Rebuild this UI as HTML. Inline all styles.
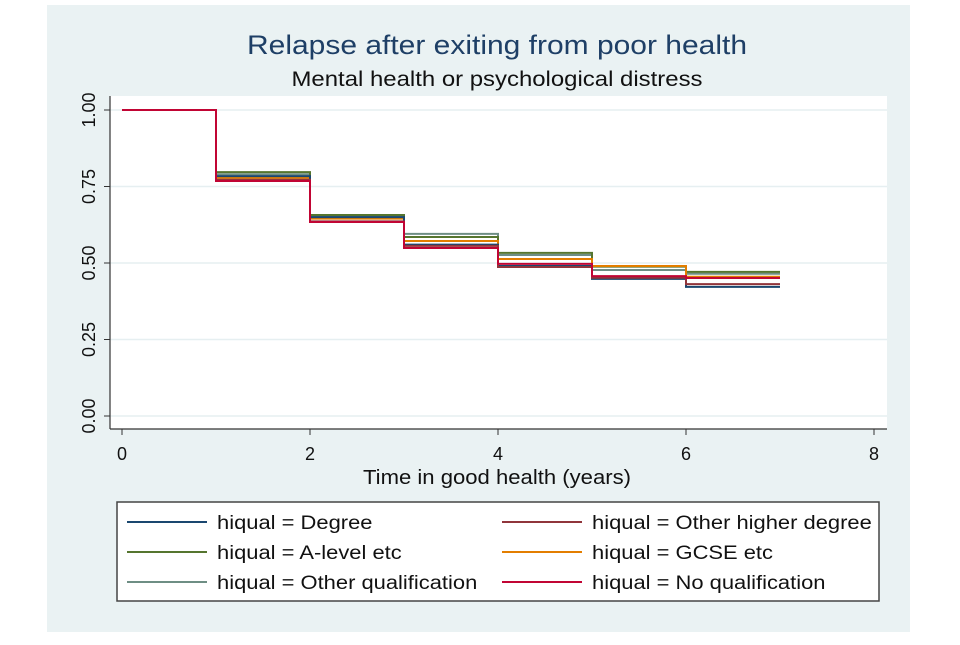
<!DOCTYPE html>
<html><head><meta charset="utf-8"><style>
body{margin:0;background:#fff;width:960px;height:640px;overflow:hidden;font-family:"Liberation Sans",sans-serif;}
</style></head><body>
<svg width="960" height="640" xmlns="http://www.w3.org/2000/svg">
<rect x="47" y="5" width="863" height="627" fill="#eaf2f3"/>
<rect x="110" y="96" width="777" height="333" fill="#fff"/>
<text x="497" y="54" text-anchor="middle" font-size="27" fill="#1e3f66" textLength="500" lengthAdjust="spacingAndGlyphs">Relapse after exiting from poor health</text>
<text x="497" y="86" text-anchor="middle" font-size="21" fill="#111" textLength="411" lengthAdjust="spacingAndGlyphs">Mental health or psychological distress</text>
<g id="grid"></g><g id="axes"></g><g id="series"></g>
<text x="497" y="484" text-anchor="middle" font-size="20" fill="#111" textLength="268" lengthAdjust="spacingAndGlyphs">Time in good health (years)</text>
<rect x="117" y="502" width="762" height="99" fill="#fff" stroke="#444" stroke-width="1.5"/>
<g id="legend"></g>
</svg>
<script>
const times=[0,1,2,3,4,5,6,7];
const seriesNames=["hiqual = Degree","hiqual = Other higher degree","hiqual = A-level etc","hiqual = GCSE etc","hiqual = Other qualification","hiqual = No qualification"];
const degree=[1,0.784,0.650,0.560,0.490,0.448,0.422];
const otherHigher=[1,0.772,0.636,0.556,0.487,0.452,0.431];
const aLevel=[1,0.797,0.657,0.585,0.533,0.488,0.471];
const gcse=[1,0.778,0.645,0.572,0.513,0.490,0.455];
const otherQual=[1,0.790,0.655,0.595,0.526,0.477,0.465];
const noQual=[1,0.768,0.634,0.549,0.497,0.457,0.451];
const yTicks=[0,0.25,0.5,0.75,1];
const xTicks=[0,2,4,6,8];
const colors=["#1a476f","#90353b","#55752f","#e37e00","#6e8e84","#c10534"];
const NS="http://www.w3.org/2000/svg";
const xs=t=>122+t*94;
const ys=v=>416-v*306;
function mk(tag,attrs,parent){const e=document.createElementNS(NS,tag);for(const k in attrs)e.setAttribute(k,attrs[k]);document.getElementById(parent).appendChild(e);return e;}
yTicks.forEach(v=>{
 const g=mk("line",{x1:110,x2:887,y1:ys(v),y2:ys(v),stroke:"#e6eff1","stroke-width":1.5},"grid");
 
 
 mk("line",{x1:104,x2:110,y1:ys(v),y2:ys(v),stroke:"#333"},"axes");
 const t=mk("text",{x:0,y:0,transform:`translate(95,${ys(v)}) rotate(-90)`,"text-anchor":"middle","font-size":18,fill:"#111"},"axes");
 t.textContent=v.toFixed(2);
 
 
});
xTicks.forEach(v=>{
 mk("line",{x1:xs(v),x2:xs(v),y1:429,y2:435,stroke:"#333"},"axes");
 const t=mk("text",{x:xs(v),y:460,"text-anchor":"middle","font-size":18,fill:"#111"},"axes");
 t.textContent=v;
 
 
});
const a1=mk("line",{x1:110,x2:110,y1:96,y2:429,stroke:"#333","stroke-width":1.2},"axes");


const a2=mk("line",{x1:110,x2:887,y1:429,y2:429,stroke:"#333","stroke-width":1.2},"axes");


const all=[degree,otherHigher,aLevel,gcse,otherQual,noQual];
const order=[4,2,3,0,1,5];
order.forEach(i=>{
 const vals=all[i];let d=`M${xs(times[0])},${ys(vals[0])}`;
 for(let k=1;k<vals.length;k++){d+=` H${xs(times[k])} V${ys(vals[k])}`;}
 d+=` H${xs(times[vals.length])}`;
 const p=mk("path",{d:d,fill:"none",stroke:colors[i],"stroke-width":2},"series");
 
 
});
seriesNames.forEach((n,i)=>{
 const col=i%2,row=Math.floor(i/2);
 const x0=col?502:127,y=522+row*30;
 const l=mk("line",{x1:x0,x2:x0+80,y1:y,y2:y,stroke:colors[i],"stroke-width":2},"legend");
 
 
 const t=mk("text",{x:x0+90,y:y+7,"font-size":19,fill:"#111"},"legend");
 t.textContent=n;
 
 
 const w=t.getComputedTextLength();
 t.setAttribute('textLength',(w*17/19*1.29).toFixed(1));
 t.setAttribute('lengthAdjust','spacingAndGlyphs');
});
</script>
</body></html>
